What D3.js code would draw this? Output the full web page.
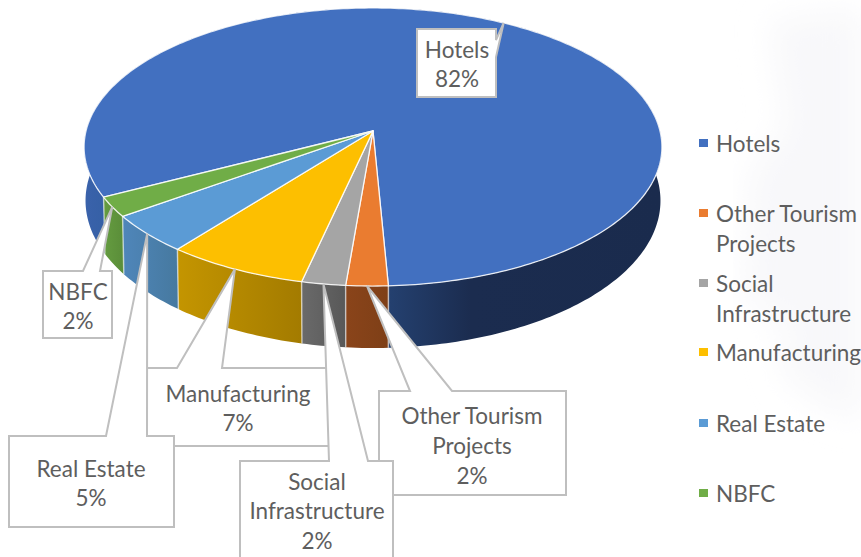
<!DOCTYPE html>
<html><head><meta charset="utf-8">
<script src="https://cdn.jsdelivr.net/npm/d3@7"></script>
<style>html,body{margin:0;padding:0;background:#fff}svg{display:block}text{font-family:Lato,"Open Sans",sans-serif;fill:#5e5e5e}</style>
</head><body><svg id="c" width="861" height="557"></svg>
<script>
const categories=["Hotels","Other Tourism Projects","Social Infrastructure","Manufacturing","Real Estate","NBFC"];
const values=[81.8,2.1,2.2,7.1,4.5,2.3];
const legendLines=[["Hotels"],["Other Tourism","Projects"],["Social","Infrastructure"],["Manufacturing"],["Real Estate"],["NBFC"]];
const labelLines=legendLines;
const colors=["#4270c0","#ea7c30","#a5a5a5","#fdbf00","#5b9bd5","#70ad47"];
const wallStops=[
 [["#3a62ab",0],["#3560a5",.04],["#24406f",.53],["#1b2c4f",.67],["#1a2b4d",1]],
 [["#8a441a",0],["#7e3f17",1]],
 [["#6a6a6a",0],["#585858",1]],
 [["#c49500",0],["#a37b00",1]],
 [["#4f86ba",0],["#46799f",1]],
 [["#659c40",0],["#5a8d39",1]]];
// callout boxes: x0,y0,x1,y1, and where the pointer base meets the box
const boxes=[
 {i:5,b:[43,271,112,338],p:[[83,271],[100,271]],ty:[300,329]},
 {i:3,b:[147,368,329,446],p:[[177,368],[222,368]],ty:[402,431]},
 {i:1,b:[379,391,566,495],p:[[410,391],[452,391]],ty:[424,454,484]},
 {i:2,b:[240,461,393,570],p:[[329,461],[368,461]],ty:[490,519,549]},
 {i:4,b:[9,436,174,527],p:[[106,436],[147,436]],ty:[477,506]},
 {i:0,b:[417,29,496,97],p:[[496,40],[496,57]],ty:[58,87]}];
const textX={0:457,1:472,2:317,3:238,4:91,5:78};
const legendX=716, markerX=699, legendY=[143,213,283,352,423,493];

const svg=d3.select("#c");
const defs=svg.append("defs");
defs.append("filter").attr("id","blur").append("feGaussianBlur").attr("stdDeviation",16);

// faint background texture on the right
const bg=svg.append("g").attr("filter","url(#blur)").attr("fill","#f8f8fa");
bg.append("path").attr("d","M770,20 L861,10 L861,420 L810,400 L795,330 L745,300 L750,170 L785,130Z");
bg.append("path").attr("d","M775,340 L830,330 L820,380 L790,390Z");

const pie=d3.pie().value(d=>d).sort(null).startAngle(242.8*Math.PI/180).endAngle((242.8+360)*Math.PI/180);
const arcs=pie(values);

// perspective projection of the pie disc
const k=-0.115;
function proj(a,r,level){
  const x=r*Math.sin(a), y=-r*Math.cos(a), w=1+k*y;
  const sx=level?0.995:1, sy=level?1.06:1, dy=level?52.7:0;
  return [373+287*sx*x/w, 131+dy+137.2*sy*y/w];
}
const line=d3.line();
function samples(a0,a1){const n=Math.max(4,Math.ceil((a1-a0)*60));return d3.range(n+1).map(i=>a0+(a1-a0)*i/n);}

// side walls
arcs.forEach((d,i)=>{
  const a=samples(d.startAngle,d.endAngle);
  const pts=a.map(t=>proj(t,1,0)).concat(a.slice().reverse().map(t=>proj(t,1,1)));
  const ext=d3.extent(pts,p=>p[0]);
  const g=defs.append("linearGradient").attr("id","w"+i).attr("gradientUnits","userSpaceOnUse")
    .attr("x1",ext[0]).attr("x2",ext[1]).attr("y1",0).attr("y2",0);
  wallStops[i].forEach(s=>g.append("stop").attr("offset",s[1]).attr("stop-color",s[0]));
  svg.append("path").attr("d",line(pts)+"Z").attr("fill",`url(#w${i})`);
});
// wall separators
arcs.forEach(d=>{
  svg.append("path").attr("d",line([proj(d.startAngle,1,0),proj(d.startAngle,1,1)]))
    .attr("stroke","#fff").attr("stroke-opacity",.55).attr("stroke-width",1.5).attr("fill","none");
});
// top face
arcs.forEach((d,i)=>{
  const pts=[proj(0,0,0)].concat(samples(d.startAngle,d.endAngle).map(t=>proj(t,1,0)));
  svg.append("path").attr("d",line(pts)+"Z").attr("fill",colors[i])
    .attr("stroke","#fff").attr("stroke-opacity",.85).attr("stroke-width",1.3).attr("stroke-linejoin","round");
});

// callouts
boxes.forEach(c=>{
  const d=arcs[c.i], [x0,y0,x1,y1]=c.b;
  const tip=proj((d.startAngle+d.endAngle)/2,1,0);
  const [p,q]=c.p;
  let pts;
  if(p[0]===q[0]) pts=[[x0,y0],[x1,y0],p,tip,q,[x1,y1],[x0,y1]];
  else pts=[[x0,y0],p,tip,q,[x1,y0],[x1,y1],[x0,y1]];
  svg.append("path").attr("d",line(pts)+"Z").attr("fill","#fff")
    .attr("stroke","#bfbfbf").attr("stroke-width",2).attr("stroke-linejoin","miter");
  const pct=Math.round(values[c.i])+"%";
  labelLines[c.i].concat([pct]).forEach((t,j)=>{
    svg.append("text").attr("x",textX[c.i]).attr("y",c.ty[j]).attr("text-anchor","middle")
      .attr("font-size",22.5).text(t);
  });
});

// legend
categories.forEach((c,i)=>{
  svg.append("rect").attr("x",markerX).attr("y",legendY[i]-4).attr("width",9).attr("height",8).attr("fill",colors[i]);
  legendLines[i].forEach((t,j)=>{
    svg.append("text").attr("x",legendX).attr("y",legendY[i]+9+j*29.5).attr("font-size",22.5).text(t);
  });
});
</script></body></html>
